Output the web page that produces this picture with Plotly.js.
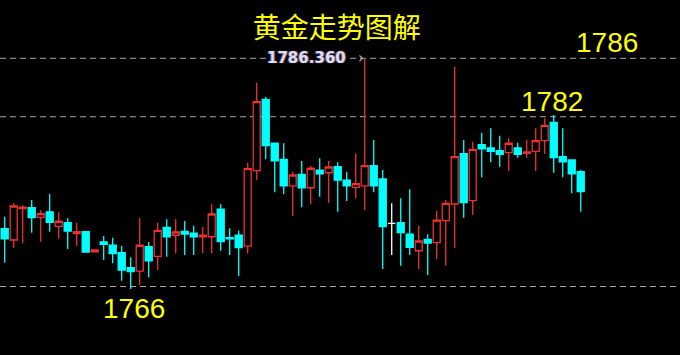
<!DOCTYPE html>
<html><head><meta charset="utf-8">
<script src="https://cdn.plot.ly/plotly-3.0.1.min.js"></script>
<style>html,body{margin:0;padding:0;background:#000;}#chart{width:680px;height:355px;}</style>
</head><body><div id="chart"></div>
<script>
const titleText = '黄金走势图解';
const openP  = [1771.16,1770.15,1772.94,1773.03,1772.17,1772.65,1771.37,1771.69,1770.71,1770.89,1769.10,1769.97,1769.68,1769.02,1767.68,1767.38,1769.55,1768.69,1771.28,1770.57,1770.92,1770.77,1770.44,1770.44,1772.89,1770.35,1770.59,1769.61,1776.33,1782.70,1778.78,1777.35,1774.97,1776.01,1774.81,1776.39,1776.15,1776.69,1775.48,1774.85,1774.97,1776.78,1775.59,1771.64,1771.69,1770.66,1769.19,1770.21,1769.91,1771.87,1773.36,1777.85,1773.66,1778.65,1778.36,1778.12,1777.94,1778.36,1777.88,1778.06,1779.01,1780.65,1777.58,1777.29,1776.24];
const highP  = [1772.23,1773.42,1773.24,1773.72,1772.80,1774.25,1772.62,1772.08,1771.69,1770.95,1769.26,1770.51,1770.35,1769.64,1768.61,1772.08,1769.97,1771.69,1771.99,1771.99,1771.84,1771.42,1771.31,1773.33,1773.33,1771.19,1770.98,1777.05,1784.18,1782.93,1778.80,1778.78,1776.24,1777.20,1776.78,1777.44,1777.20,1777.08,1776.24,1777.88,1786.36,1779.07,1776.39,1773.42,1773.87,1774.67,1771.42,1770.66,1772.76,1773.72,1785.61,1779.07,1778.92,1779.72,1780.11,1779.45,1779.22,1778.83,1779.07,1780.11,1781.01,1781.30,1780.11,1777.35,1776.39];
const lowP   = [1768.12,1769.46,1769.85,1770.80,1770.00,1770.89,1770.26,1769.35,1769.61,1769.03,1769.10,1768.36,1768.07,1766.52,1765.78,1766.13,1766.82,1767.47,1768.66,1768.96,1768.81,1768.81,1768.96,1768.96,1769.19,1768.81,1766.94,1768.96,1775.50,1777.35,1774.40,1774.25,1772.29,1773.07,1773.33,1774.01,1773.48,1772.67,1773.63,1773.87,1772.83,1774.40,1767.56,1768.81,1767.86,1768.81,1767.56,1767.03,1768.43,1767.86,1769.46,1772.14,1772.38,1775.74,1777.08,1776.69,1776.30,1777.49,1777.49,1776.30,1777.82,1776.15,1775.74,1774.32,1772.67];
const closeP = [1770.26,1773.18,1773.07,1772.14,1772.50,1771.73,1771.82,1770.95,1770.89,1769.08,1769.26,1769.77,1768.93,1767.47,1767.32,1769.68,1768.28,1771.01,1770.42,1770.86,1770.68,1770.42,1770.59,1772.47,1770.00,1770.26,1769.46,1776.51,1782.49,1778.56,1777.22,1774.97,1775.95,1774.81,1776.55,1776.04,1776.66,1775.50,1774.97,1775.17,1776.78,1774.97,1771.35,1771.64,1770.80,1769.50,1770.06,1769.88,1771.93,1773.42,1777.58,1773.48,1778.24,1778.29,1778.06,1777.79,1778.78,1777.79,1778.00,1779.01,1780.38,1777.49,1777.11,1776.04,1774.46];
const levels = [1786.36, 1781.15, 1766];
const levelLabels = ['1786', '1782', '1766'];
const lastPriceLabel = '1786.360';

const idx = openP.map((_, i) => i);
const main = {x: [], open: [], high: [], low: [], close: []};
const doji = {x: [], open: [], high: [], low: [], close: []};
idx.forEach(i => {
  const t = openP[i] === closeP[i] ? doji : main;
  t.x.push(i); t.open.push(openP[i]); t.high.push(highP[i]); t.low.push(lowP[i]); t.close.push(closeP[i]);
});

const RED = '#ee3030', CYAN = '#00ffff';
const traces = [
  Object.assign({type: 'candlestick', hoverinfo: 'skip', showlegend: false, whiskerwidth: 0,
    increasing: {line: {color: RED, width: 1.3}, fillcolor: '#000000'},
    decreasing: {line: {color: CYAN, width: 1.3}, fillcolor: CYAN}}, main),
  Object.assign({type: 'candlestick', hoverinfo: 'skip', showlegend: false, whiskerwidth: 0,
    increasing: {line: {color: '#ffffff', width: 1.3}, fillcolor: '#ffffff'},
    decreasing: {line: {color: '#ffffff', width: 1.3}, fillcolor: '#ffffff'}}, doji)
];

const shapes = levels.map(v => ({type: 'line', xref: 'paper', x0: 0, x1: 1, yref: 'y', y0: v, y1: v,
  line: {color: '#a8a8a8', width: 1, dash: '6px,4px'}, layer: 'below'}));

const yellowFont = {family: 'Liberation Sans, Arial, sans-serif', size: 28, color: '#ffff00'};
const labelPos = [[607, 42.5], [552, 101.5], [133.5, 308.5]];
const annotations = levelLabels.map((t, i) => ({text: t, xref: 'paper', yref: 'paper',
  x: labelPos[i][0] / 680, y: 1 - labelPos[i][1] / 355, xanchor: 'center', yanchor: 'middle',
  showarrow: false, font: yellowFont}));
annotations.push({text: '<b>' + lastPriceLabel + '</b>', xref: 'paper', yref: 'y',
  x: 306 / 680, y: levels[0], xanchor: 'center', yanchor: 'middle', showarrow: false,
  bgcolor: '#000000', borderpad: 0,
  font: {family: 'DejaVu Sans, sans-serif', size: 15, color: '#d8e0f0', shadow: '1px 0 1px #c04040, -1px 0 1px #4060e0'}});
annotations.push({text: '›', xref: 'paper', yref: 'y', x: 361 / 680, y: levels[0],
  xanchor: 'center', yanchor: 'middle', showarrow: false,
  font: {family: 'DejaVu Sans, sans-serif', size: 15, color: '#b8b8b8'}});

const layout = {
  width: 680, height: 355,
  margin: {l: 0, r: 0, t: 0, b: 0, pad: 0},
  paper_bgcolor: '#000000', plot_bgcolor: '#000000',
  showlegend: false,
  boxgap: 0.22, boxgroupgap: 0,
  title: {text: titleText, x: 336.7 / 680, xanchor: 'center', y: 1 - 28.5 / 355, yanchor: 'middle',
    font: {family: 'Noto Sans CJK SC, sans-serif', size: 28, color: '#ffff00'}},
  xaxis: {range: [-0.522, 75.03], showgrid: false, zeroline: false, showticklabels: false,
    showline: false, ticks: '', fixedrange: true, rangeslider: {visible: false}},
  yaxis: {range: [1759.888, 1791.5615], showgrid: false, zeroline: false, showticklabels: false,
    showline: false, ticks: '', fixedrange: true},
  shapes: shapes,
  annotations: annotations,
  hovermode: false
};

Plotly.newPlot('chart', traces, layout, {staticPlot: true, displayModeBar: false});
</script>
</body></html>
